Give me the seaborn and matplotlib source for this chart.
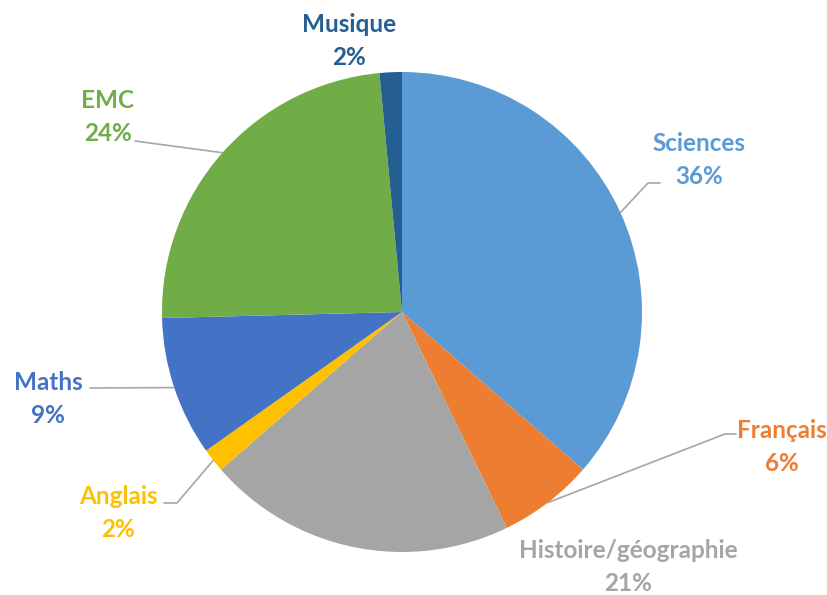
import numpy as np
import matplotlib
matplotlib.use("Agg")
import matplotlib.pyplot as plt
import seaborn as sns

# data (percent of total)
subjects = ["Sciences", "Français", "Histoire/géographie", "Anglais", "Maths", "EMC", "Musique"]
values = [36.4, 6.4, 20.8, 1.6, 9.4, 23.9, 1.5]
colors = ["#5B9BD5", "#ED7D31", "#A5A5A5", "#FFC000", "#4472C4", "#70AD47", "#255E91"]

W, H = 828, 595
sns.set_theme(style="white")
plt.rcParams["font.family"] = ["Lato", "DejaVu Sans"]

fig = plt.figure(figsize=(W / 100, H / 100), dpi=100)
ax = fig.add_axes([0, 0, 1, 1])

cx, cy, r = 402, H - 312, 240
wedges, _ = ax.pie(values, colors=colors, startangle=90, counterclock=False,
                   center=(cx, cy), radius=r, frame=True,
                   wedgeprops=dict(linewidth=0))
ax.set_xlim(0, W)
ax.set_ylim(0, H)
ax.set_aspect("equal")
ax.axis("off")

# label centres (pixels, y down) and leader line elbows
label_pos = {
    "Sciences": (699, 160), "Français": (782, 447), "Histoire/géographie": (628, 567),
    "Anglais": (118, 513), "Maths": (48, 399), "EMC": (108, 117), "Musique": (349, 41),
}
leaders = {
    "Sciences": [(648, 183), (660, 183)],
    "Français": [(725, 434), (736, 434)],
    "Anglais": [(177, 503), (164, 503)],
    "Maths": [(90, 388)],
    "EMC": [(135, 141)],
}

for w, name, val, col in zip(wedges, subjects, values, colors):
    lx, ly = label_pos[name]
    ax.text(lx, H - ly, f"{name}\n{round(val)}%", color=col, fontsize=17.5,
            fontweight="bold", ha="center", va="center", linespacing=1.5)
    if name in leaders:
        mid = np.deg2rad((w.theta1 + w.theta2) / 2)
        pts = [(cx + r * np.cos(mid), cy + r * np.sin(mid))]
        pts += [(x, H - y) for x, y in leaders[name]]
        xs, ys = zip(*pts)
        ax.plot(xs, ys, color="#A6A6A6", linewidth=1.2, zorder=0.5)

fig.savefig("out.png", dpi=100)
